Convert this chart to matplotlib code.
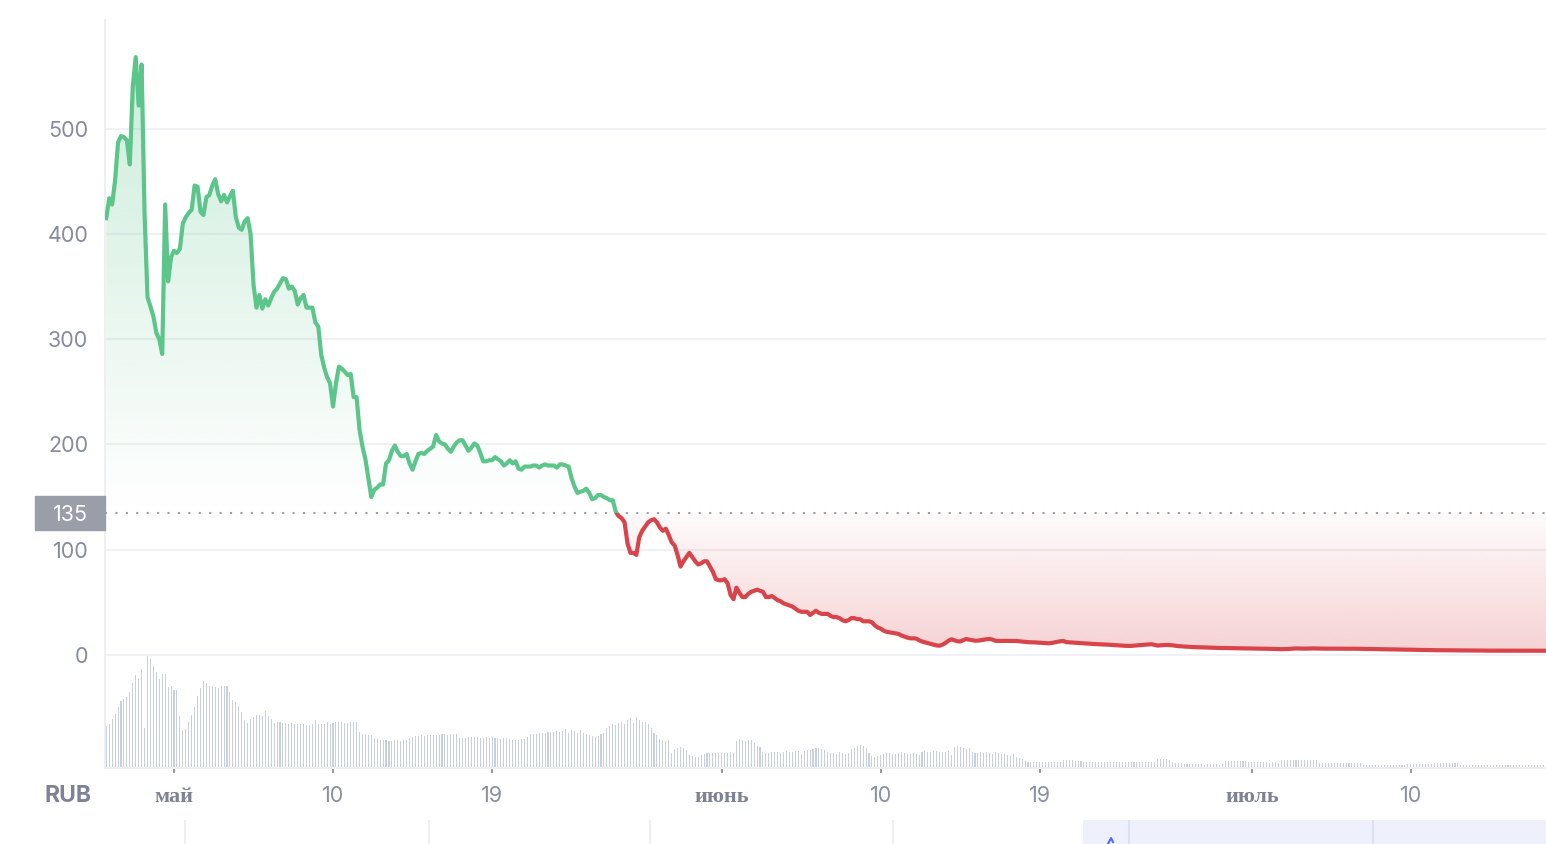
import numpy as np
import pandas as pd
import matplotlib
matplotlib.use("Agg")
import matplotlib.pyplot as plt
import matplotlib.dates as mdates
from matplotlib.colors import to_rgb
from matplotlib.patches import Rectangle
from matplotlib.transforms import blended_transform_factory

# 4-hour candles, first one at 2024-04-27 04:00
start = "2024-04-27 04:00"

price = [
    415, 434, 428, 451, 487,                # Apr 27
    493, 492, 489, 466, 540, 568,           # Apr 28
    522, 561, 420, 340, 331, 322,           # Apr 29
    306, 300, 286, 428, 355, 378,           # Apr 30
    384, 382, 386, 410, 416, 420,           # May 1
    423, 446, 445, 421, 418, 435,
    437, 446, 452, 438, 431, 437,
    430, 436, 441, 416, 406, 404,
    412, 415, 400, 352, 330, 342,
    329, 338, 332, 339, 345, 348,
    353, 358, 357, 348, 350, 346,
    333, 339, 342, 330, 330, 330,
    316, 312, 285, 273, 264, 258,
    236, 258, 274, 272, 269, 266,           # May 10
    267, 245, 245, 214, 198, 186,
    168, 150, 157, 159, 162, 162,
    182, 185, 194, 199, 193, 189,
    189, 191, 182, 176, 184, 191,
    192, 191, 194, 196, 198, 209,
    203, 201, 200, 196, 193, 198,
    202, 204, 204, 199, 194, 197,
    201, 199, 192, 184, 184, 185,
    185, 188, 186, 184, 180, 182,           # May 19
    185, 182, 184, 177, 176, 179,
    179, 179, 180, 180, 178, 180,
    181, 180, 180, 180, 178, 181,
    181, 180, 179, 168, 160, 154,
    155, 156, 158, 154, 148, 149,
    152, 152, 150, 149, 147, 147,
    136, 132, 130, 126, 106, 97,
    97, 95, 112, 118, 122, 126,
    128, 129, 126, 121, 118, 120,
    114, 107, 104, 95, 84, 89,
    93, 97, 93, 89, 86, 87,
    89, 89, 84, 79, 72, 71,                 # May 31
    71, 72, 68, 57, 53, 64,                 # Jun 1
    59, 55, 55, 58, 60, 61,
    62, 61, 60, 55, 55, 56,
    54, 52, 51, 49, 48, 47,
    46, 44, 42, 41, 41, 41,
    38, 40, 42, 40, 39, 39,
    39, 37, 36, 36, 35, 33,
    32, 33, 35, 35, 34, 34,
    32, 32, 32, 31, 28, 26,
    25, 23, 22, 21.5, 21, 20.5,             # Jun 10
    20, 18.5, 17.5, 16.5, 15.8, 15.8,
    15.6, 14, 12.8, 12, 11.2, 10.5,
    9.8, 9, 8.8, 9.8, 11.5, 13.5,
    14.9, 14, 13, 12.8, 14, 15.2,
    14.5, 14, 13.6, 13.6, 14, 14.5,
    15, 15.2, 14.5, 13.4, 13.3, 13.3,
    13.4, 13.3, 13.3, 13.3, 13.3, 13,
    12.6, 12.4, 12.2, 12, 12, 11.8,
    11.6, 11.4, 11.2, 11.1, 11.4, 12,       # Jun 19
    12.5, 13, 13.3, 12.2, 12, 11.8,
    11.5, 11.3, 11.1, 11, 10.8, 10.7,
    10.5, 10.3, 10.2, 10.2, 10, 9.8,
    9.6, 9.4, 9.2, 9, 8.9, 8.7,
    8.6, 8.6, 8.8, 9, 9.3, 9.6,
    9.8, 10, 10.2, 9.5, 8.9, 9.2,
    9.4, 9.5, 9.4, 9.2, 8.8, 8.4,
    8.2, 8, 7.8, 7.6, 7.5, 7.4,
    7.3, 7.2, 7.1, 7, 6.9, 6.8,
    6.8, 6.7, 6.6, 6.6, 6.5, 6.5,
    6.4, 6.4, 6.3, 6.3, 6.2, 6.2,           # Jun 30
    6.1, 6.1, 6.0, 6.0, 5.9, 5.9,           # Jul 1
    5.8, 5.7, 5.6, 5.6, 5.5, 5.5,
    5.6, 5.8, 6.0, 6.2, 6.1, 6.0,
    6.0, 6.1, 6.2, 6.2, 6.1, 6.0,
    6.0, 6.0, 6.1, 6.1, 6.0, 6.0,
    6.0, 5.9, 5.9, 6.0, 6.0, 6.0,
    5.9, 5.8, 5.8, 5.7, 5.7, 5.6,
    5.6, 5.5, 5.5, 5.4, 5.4, 5.3,
    5.3, 5.2, 5.2, 5.1, 5.1, 5.0,
    5.0, 4.9, 4.9, 4.8, 4.8, 4.7,           # Jul 10
    4.7, 4.6, 4.6, 4.5, 4.5, 4.5,
    4.5, 4.4, 4.4, 4.4, 4.3, 4.3,
    4.3, 4.3, 4.2, 4.2, 4.2, 4.2,
    4.2, 4.1, 4.1, 4.1, 4.1, 4.1,
    4.1, 4.0, 4.0, 4.0, 4.0, 4.0,
    4.0, 4.0, 4.0, 4.0, 4.0, 4.0,
    4.0, 4.0, 4.0, 4.0, 4.0,                # Jul 17
]

volume = [
    42, 44, 48, 53, 60,                     # Apr 27
    66, 68, 70, 75, 84, 92,
    88, 98, 40, 111, 108, 101,
    95, 88, 93, 93, 80, 81,
    77, 77, 51, 38, 39, 46,                 # May 1
    52, 60, 71, 79, 86, 84,
    81, 81, 80, 79, 81, 81,
    81, 75, 67, 65, 61, 55,
    47, 45, 48, 50, 52, 52,
    51, 56, 51, 48, 45, 46,
    46, 45, 45, 44, 45, 44,
    44, 44, 44, 43, 43, 44,
    47, 44, 44, 44, 46, 44,
    45, 46, 46, 46, 45, 45,                 # May 10
    46, 46, 46, 36, 34, 34,
    33, 33, 30, 29, 28, 28,
    28, 27, 27, 28, 28, 27,
    28, 28, 30, 31, 32, 32,
    33, 32, 33, 33, 33, 33,
    33, 34, 34, 33, 34, 34,
    34, 30, 30, 30, 31, 31,
    31, 31, 30, 30, 31, 30,
    31, 30, 30, 29, 30, 30,                 # May 19
    29, 28, 28, 28, 29, 29,
    31, 34, 34, 34, 35, 35,
    35, 36, 36, 36, 37, 36,
    37, 39, 35, 38, 37, 35,
    38, 35, 34, 33, 32, 31,
    32, 34, 35, 40, 42, 44,
    43, 45, 46, 44, 47, 49,
    45, 50, 47, 46, 46, 44,
    40, 35, 33, 29, 28, 27,
    28, 15, 19, 20, 21, 20,
    18, 13, 12, 11, 11, 13,
    14, 15, 15, 15, 15, 15,                 # May 31
    15, 15, 15, 16, 15, 27,                 # Jun 1
    29, 28, 27, 28, 28, 25,
    22, 21, 16, 15, 15, 16,
    16, 16, 15, 16, 17, 16,
    16, 17, 17, 14, 17, 18,
    18, 19, 20, 20, 19, 18,
    16, 15, 15, 14, 16, 15,
    14, 15, 19, 20, 22, 23,
    22, 20, 15, 12, 11, 12,
    13, 14, 15, 15, 14, 14,                 # Jun 10
    15, 16, 15, 14, 14, 15,
    14, 13, 16, 17, 16, 16,
    17, 17, 16, 16, 16, 17,
    13, 21, 22, 21, 20, 19,
    20, 16, 15, 15, 16, 15,
    16, 15, 14, 16, 15, 14,
    14, 13, 12, 14, 11, 10,
    9, 7, 6, 6, 6, 6,
    6, 6, 6, 6, 6, 6,                       # Jun 19
    6, 6, 8, 8, 8, 8,
    7, 7, 7, 6, 6, 6,
    6, 6, 6, 6, 6, 6,
    6, 6, 6, 6, 6, 6,
    6, 6, 6, 6, 6, 6,
    6, 6, 6, 6, 9, 9,
    9, 9, 8, 6, 5, 5,
    5, 4, 4, 4, 4, 4,
    4, 4, 3, 4, 4, 4,
    4, 3, 4, 7, 7, 7,
    7, 7, 7, 7, 7, 6,                       # Jun 30
    6, 6, 6, 6, 6, 6,                       # Jul 1
    5, 6, 6, 5, 8, 8,
    8, 8, 8, 8, 8, 8,
    8, 8, 8, 8, 8, 5,
    5, 5, 5, 5, 5, 5,
    5, 5, 5, 5, 5, 5,
    5, 5, 3, 3, 3, 3,
    3, 3, 3, 3, 3, 3,
    3, 3, 3, 3, 3, 4,
    4, 4, 4, 4, 4, 4,                       # Jul 10
    4, 4, 5, 5, 5, 5,
    5, 5, 5, 5, 5, 3,
    3, 3, 3, 3, 3, 3,
    3, 3, 3, 3, 3, 3,
    3, 3, 3, 3, 3, 3,
    3, 3, 3, 3, 3, 3,
    3, 3, 3, 3, 3,                          # Jul 17
]

baseline = 135
y_ticks = [0, 100, 200, 300, 400, 500]
x_tick_dates = ["2024-05-01", "2024-05-10", "2024-05-19", "2024-06-01",
                "2024-06-10", "2024-06-19", "2024-07-01", "2024-07-10"]
x_tick_labels = ["май", "10", "19", "июнь", "10", "19", "июль", "10"]

GREEN = "#5cc58a"
RED = "#d9434a"
LABEL = "#868b9e"
GRID = "#f0f1f5"

n = min(len(price), len(volume))
price = np.array(price[:n], dtype=float)
volume = np.array(volume[:n], dtype=float)
t = mdates.date2num(pd.date_range(start, periods=n, freq="4h"))

W, H = 1546, 844
fig = plt.figure(figsize=(W / 100, H / 100), dpi=100)
plt.rcParams["font.family"] = ["Inter", "DejaVu Sans"]

left, right, top, bottom = 105, 1546, 20, 768
rect = [left / W, 1 - bottom / H, (right - left) / W, (bottom - top) / H]
may1 = mdates.date2num(pd.Timestamp("2024-05-01"))
xlim = (may1 - 3.905, may1 + 77.65)

# volume on its own scale, bottom 15% of the pane
ax_vol = fig.add_axes(rect, zorder=0)
ax_vol.bar(t, volume, width=0.06, color="#c8cfdd", linewidth=0)
ax_vol.set_xlim(xlim)
ax_vol.set_ylim(0, volume.max() / 0.15)
ax_vol.axis("off")

ax = fig.add_axes(rect, zorder=1)
ax.patch.set_alpha(0)


def gradient_fill(ax, x, edge, base, color, lo, hi, a_lo, a_hi):
    poly = ax.fill_between(x, edge, base, facecolor="none", edgecolor="none")
    img = np.zeros((256, 1, 4))
    img[..., :3] = to_rgb(color)
    img[:, 0, 3] = np.linspace(a_lo, a_hi, 256)
    im = ax.imshow(img, aspect="auto", origin="lower", interpolation="bilinear",
                   extent=[x[0], x[-1], lo, hi], zorder=1)
    im.set_clip_path(poly.get_paths()[0], transform=ax.transData)


ymin, ymax = -107.4, 603.3
gradient_fill(ax, t, np.maximum(price, baseline), baseline, GREEN, baseline, ymax, 0.0, 0.34)
gradient_fill(ax, t, np.minimum(price, baseline), baseline, RED, ymin, baseline, 0.42, 0.02)

line_g, = ax.plot(t, price, color=GREEN, lw=3.0, solid_joinstyle="round", zorder=3)
line_g.set_clip_path(Rectangle((xlim[0], baseline), 200, 2000, transform=ax.transData))
line_r, = ax.plot(t, price, color=RED, lw=3.0, solid_joinstyle="round", zorder=3)
line_r.set_clip_path(Rectangle((xlim[0], -2000), 200, 2000 + baseline, transform=ax.transData))

ax.axhline(baseline, color="#9a9ea9", lw=1.5, linestyle=(0, (1, 4)), zorder=2)

ax.set_xlim(xlim)
ax.set_ylim(ymin, ymax)

ax.set_yticks(y_ticks)
ax.grid(axis="y", color=GRID, lw=1.5)
ax.set_axisbelow(True)
ax.tick_params(axis="y", length=0, pad=12, labelsize=15.5, labelcolor=LABEL)

ax.set_xticks(mdates.date2num(pd.to_datetime(x_tick_dates)), x_tick_labels)
ax.tick_params(axis="x", length=3.6, width=1.3, color="#8a8fa3", pad=21,
               labelsize=15.5, labelcolor="#8a8fa3")
for lbl in ax.get_xticklabels():
    lbl.set_verticalalignment("baseline")
    if not lbl.get_text().isdigit():
        lbl.set_fontfamily("Liberation Serif")
        lbl.set_fontweight("bold")
        lbl.set_fontsize(16)
        lbl.set_color("#7d8296")

for s in ["top", "right"]:
    ax.spines[s].set_visible(False)
for s in ["left", "bottom"]:
    ax.spines[s].set_color("#eeeff3")
    ax.spines[s].set_linewidth(1.5)

# current value label on the price scale
trans = blended_transform_factory(fig.transFigure, ax.transData)
ax.add_patch(Rectangle((35 / W, baseline - 17 / 1.0525), 70 / W, 34 / 1.0525,
                       transform=trans, color="#9a9ea9", clip_on=False, zorder=5))
ax.text(70 / W, baseline, str(baseline), transform=trans, ha="center",
        va="center_baseline", color="white", fontsize=15.5, zorder=6)

fig.text(68 / W, 1 - 802 / H, "RUB", ha="center", va="baseline", fontsize=16.5,
         fontweight="bold", color="#7d8296")

# time navigator strip at the bottom edge
nav = fig.add_axes([0, 0, 1, 24 / H])
nav.set_xlim(0, W)
nav.set_ylim(0, 24)
nav.axis("off")
nav.add_patch(Rectangle((1083, 0), 463, 24, color="#eef0fb", lw=0))
for xv in [185, 429, 650, 893]:
    nav.axvline(xv, color="#eeeff2", lw=1.5)
for xv in [1129, 1373]:
    nav.axvline(xv, color="#dcdfee", lw=1.5)
nav.plot([1108, 1111, 1113], [0, 6, 2], color="#4d6df5", lw=1.5)

fig.savefig("out.png", dpi=100)
